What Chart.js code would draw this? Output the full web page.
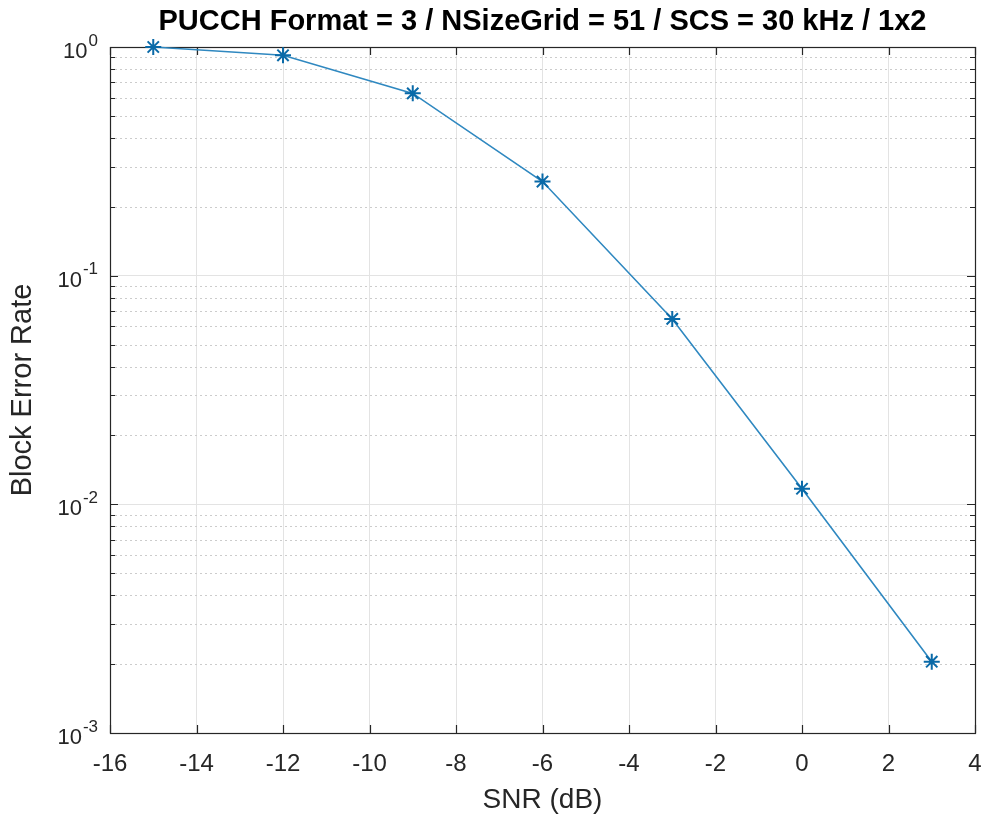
<!DOCTYPE html>
<html>
<head>
<meta charset="utf-8">
<script src="https://cdn.jsdelivr.net/npm/chart.js@4"></script>
<style>
  html, body { margin: 0; padding: 0; background: #fff; }
  #wrap { width: 985px; height: 819px; position: relative; }
</style>
</head>
<body>
<div id="wrap"><canvas id="chart"></canvas></div>
<script>
// values
const snrDb = [-15, -12, -9, -6, -3, 0, 3];
const blockErrorRate = [1.0, 0.92, 0.627, 0.258, 0.0647, 0.0117, 0.00205];
const xTickValues = [-16, -14, -12, -10, -8, -6, -4, -2, 0, 2, 4];
const yExponents = [-3, -2, -1, 0];

const axisColor = '#262626';
const fontFamily = '"Liberation Sans", Arial, Helvetica, sans-serif';

// log ticks: decades plus the 2..9 minors
function logTicks() {
    const out = [];
    yExponents.forEach(e => {
        if (e === 0) { out.push({ value: 1 }); return; }
        for (let m = 1; m <= 9; m++) out.push({ value: m * Math.pow(10, e) });
    });
    return out;
}

function isDecade(v) {
    const l = Math.log10(v);
    return Math.abs(l - Math.round(l)) < 1e-9;
}

// MATLAB-ish axes dressing: dotted minor grid, box, inward ticks, 10^n labels
const matlabAxes = {
    id: 'matlabAxes',
    beforeDatasetsDraw(chart) {
        const { ctx, chartArea: a, scales: { x, y } } = chart;
        ctx.save();
        // minor dotted grid
        ctx.strokeStyle = '#cccccc';
        ctx.lineWidth = 1;
        ctx.setLineDash([2, 3]);
        y.ticks.forEach(t => {
            if (isDecade(t.value)) return;
            const py = Math.round(y.getPixelForValue(t.value)) + 0.5;
            ctx.beginPath();
            ctx.moveTo(a.left, py);
            ctx.lineTo(a.right, py);
            ctx.stroke();
        });
        ctx.setLineDash([]);

        // box
        ctx.strokeStyle = axisColor;
        ctx.lineWidth = 1.2;
        ctx.strokeRect(Math.round(a.left) + 0.5, Math.round(a.top) + 0.5,
            Math.round(a.right - a.left), Math.round(a.bottom - a.top));

        // inward ticks
        xTickValues.forEach(v => {
            const px = Math.round(x.getPixelForValue(v)) + 0.5;
            ctx.beginPath();
            ctx.moveTo(px, a.bottom); ctx.lineTo(px, a.bottom - 8);
            ctx.moveTo(px, a.top); ctx.lineTo(px, a.top + 8);
            ctx.stroke();
        });
        y.ticks.forEach(t => {
            const len = isDecade(t.value) ? 8 : 5;
            const py = Math.round(y.getPixelForValue(t.value)) + 0.5;
            ctx.beginPath();
            ctx.moveTo(a.left, py); ctx.lineTo(a.left + len, py);
            ctx.moveTo(a.right, py); ctx.lineTo(a.right - len, py);
            ctx.stroke();
        });
        ctx.restore();
    },
    afterDraw(chart) {
        const { ctx, chartArea: a, scales: { y } } = chart;
        ctx.save();
        ctx.fillStyle = axisColor;
        ctx.textBaseline = 'middle';
        ctx.textAlign = 'right';
        const rightEdge = a.left - 12;
        yExponents.forEach(e => {
            const py = y.getPixelForValue(Math.pow(10, e));
            const sup = e < 0 ? '-' + Math.abs(e) : String(e);
            ctx.font = '17px ' + fontFamily;
            const supW = ctx.measureText(sup).width;
            ctx.fillText(sup, rightEdge, py - 6);
            ctx.font = '22px ' + fontFamily;
            ctx.fillText('10', rightEdge - supW - 1, py + 5);
        });
        ctx.restore();
    }
};

const ctx = document.getElementById('chart').getContext('2d');
window.blerChart = new Chart(ctx, {
    type: 'line',
    data: {
        datasets: [{
            label: 'BLER',
            data: snrDb.map((s, i) => ({ x: s, y: blockErrorRate[i] })),
            borderColor: '#2f88c0',
            borderWidth: 1.6,
            pointStyle: 'star',
            pointRadius: 8,
            pointBorderWidth: 2,
            pointBorderColor: '#0a6aa8',
            pointBackgroundColor: '#0a6aa8',
            tension: 0,
            fill: false,
            clip: false
        }]
    },
    options: {
        responsive: true,
        maintainAspectRatio: false,
        animation: false,
        events: [],
        layout: {
            padding: { left: 0, right: 10, top: 0, bottom: 0 }
        },
        scales: {
            x: {
                type: 'linear',
                min: -16,
                max: 4,
                afterBuildTicks: scale => { scale.ticks = xTickValues.map(v => ({ value: v })); },
                afterFit: scale => {
                    scale.height = 86;
                    scale.paddingLeft = 0;
                    scale.paddingRight = 0;
                },
                ticks: {
                    color: axisColor,
                    padding: 17,
                    font: { family: fontFamily, size: 24 }
                },
                grid: {
                    color: '#e3e3e3',
                    lineWidth: 1,
                    drawTicks: false
                },
                border: { display: false },
                title: {
                    display: true,
                    text: 'SNR (dB)',
                    color: axisColor,
                    font: { family: fontFamily, size: 28 },
                    padding: { top: 0, bottom: 2 }
                }
            },
            y: {
                type: 'logarithmic',
                min: 0.001,
                max: 1,
                afterBuildTicks: scale => { scale.ticks = logTicks(); },
                afterFit: scale => {
                    scale.width = 110;
                    scale.paddingTop = 0;
                    scale.paddingBottom = 0;
                },
                ticks: { display: false },
                grid: {
                    color: c => (c.tick && isDecade(c.tick.value)) ? '#e3e3e3' : 'rgba(0,0,0,0)',
                    lineWidth: 1,
                    drawTicks: false
                },
                border: { display: false },
                title: {
                    display: true,
                    text: 'Block Error Rate',
                    color: axisColor,
                    font: { family: fontFamily, size: 29 },
                    padding: { top: 6, bottom: 0 }
                }
            }
        },
        plugins: {
            legend: { display: false },
            tooltip: { enabled: false },
            title: {
                display: true,
                fullSize: false,
                text: 'PUCCH Format = 3 / NSizeGrid = 51 / SCS = 30 kHz / 1x2',
                color: '#000',
                font: { family: fontFamily, size: 29, weight: 'bold' },
                padding: { top: 5, bottom: 7.2 }
            }
        }
    },
    plugins: [matlabAxes]
});
</script>
</body>
</html>
